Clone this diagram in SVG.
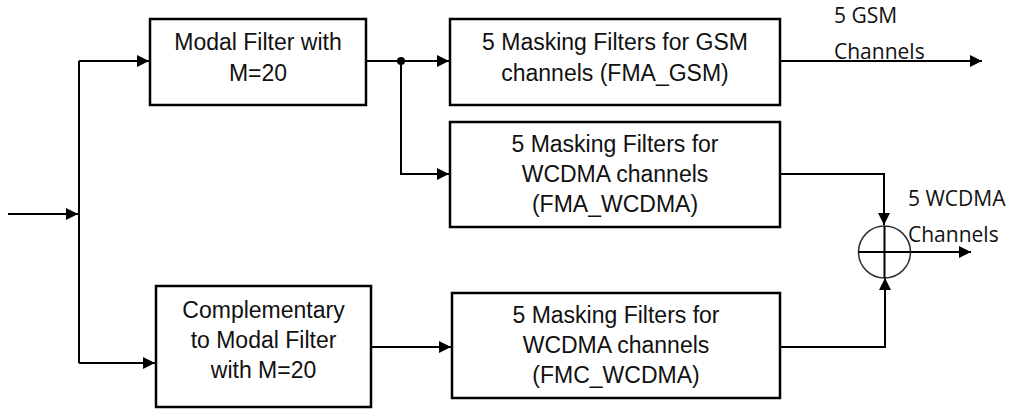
<svg xmlns="http://www.w3.org/2000/svg" width="1016" height="409" viewBox="0 0 1016 409">
<style>
.box{fill:#fff;stroke:#000;stroke-width:2.5}
.t{font-family:"Liberation Sans",Arial,sans-serif;font-size:23px;fill:#111;text-anchor:middle}
.lbl{font-family:"Open Sans","Noto Sans",sans-serif;font-size:21px;fill:#111}
.c{fill:none;stroke:#000;stroke-width:2}
</style>
<defs>
<marker id="ah" viewBox="0 0 12 12" refX="12" refY="6" markerWidth="12" markerHeight="12" markerUnits="userSpaceOnUse" orient="auto">
<path d="M0,0 L12,6 L0,12 Z" fill="#000"/>
</marker>
</defs>
<g id="connectors">
<path class="c" d="M8,214 H78" marker-end="url(#ah)"/>
<path class="c" d="M79,61 V363"/>
<path class="c" d="M79,61 H149" marker-end="url(#ah)"/>
<path class="c" d="M79,363 H155" marker-end="url(#ah)"/>
<path class="c" d="M366,61 H449" marker-end="url(#ah)"/>
<circle cx="401" cy="61" r="4" fill="#000"/>
<path class="c" d="M401,61 V174 H449" marker-end="url(#ah)"/>
<path class="c" d="M371,347 H451" marker-end="url(#ah)"/>
<path class="c" d="M781,61 H982" marker-end="url(#ah)"/>
<path class="c" d="M781,174 H884 V225" marker-end="url(#ah)"/>
<path class="c" d="M781,347 H885 V278" marker-end="url(#ah)"/>
<path class="c" d="M910,252 H971" marker-end="url(#ah)"/>
</g>
<g id="sum">
<circle cx="884.5" cy="252" r="26" fill="none" stroke="#333" stroke-width="1.5"/>
<path class="c" d="M858.5,252 H910.5 M884.5,226 V278"/>
</g>
<g id="modal">
<rect class="box" x="150" y="19" width="216" height="86"/>
<text class="t" x="258" y="50">Modal Filter with</text>
<text class="t" x="258" y="81">M=20</text>
</g>
<g id="complementary">
<rect class="box" x="156" y="286" width="215" height="121"/>
<text class="t" x="263.5" y="318">Complementary</text>
<text class="t" x="263.5" y="348">to Modal Filter</text>
<text class="t" x="263.5" y="378">with M=20</text>
</g>
<g id="fma_gsm">
<rect class="box" x="450" y="19" width="330" height="86"/>
<text class="t" x="615" y="50">5 Masking Filters for GSM</text>
<text class="t" x="615" y="81">channels (FMA_GSM)</text>
</g>
<g id="fma_wcdma">
<rect class="box" x="450" y="122" width="330" height="105"/>
<text class="t" x="615" y="152">5 Masking Filters for</text>
<text class="t" x="615" y="182">WCDMA channels</text>
<text class="t" x="615" y="212">(FMA_WCDMA)</text>
</g>
<g id="fmc_wcdma">
<rect class="box" x="452" y="293" width="328" height="105"/>
<text class="t" x="616" y="323">5 Masking Filters for</text>
<text class="t" x="616" y="353">WCDMA channels</text>
<text class="t" x="616" y="383">(FMC_WCDMA)</text>
</g>
<g id="labels">
<text class="lbl" x="834" y="23">5 GSM</text>
<text class="lbl" x="834" y="59">Channels</text>
<text class="lbl" x="908" y="206">5 WCDMA</text>
<text class="lbl" x="908" y="242">Channels</text>
</g>
</svg>
